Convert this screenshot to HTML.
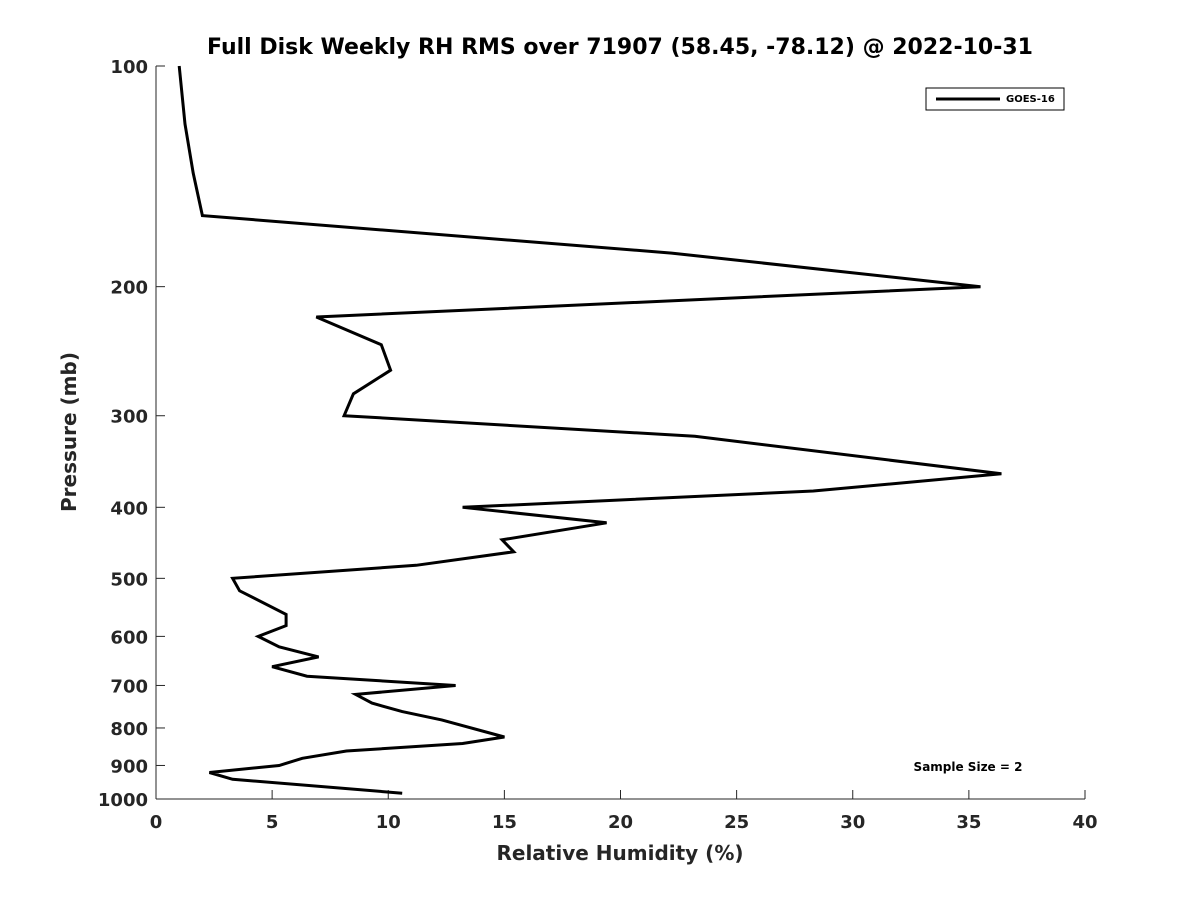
<!DOCTYPE html>
<html><head><meta charset="utf-8"><style>
body{margin:0;background:#fff;}
svg text{font-family:"DejaVu Sans","Liberation Sans",sans-serif;font-weight:bold;fill:#262626;}
</style></head><body>
<svg id="chart" width="1200" height="900" xmlns="http://www.w3.org/2000/svg">
<rect width="1200" height="900" fill="#fff"/>
<text x="620" y="54" font-size="22" text-anchor="middle" style="fill:#000">Full Disk Weekly RH RMS over 71907 (58.45, -78.12) @ 2022-10-31</text>
<g id="axes"></g>
<text x="620" y="860" font-size="20" text-anchor="middle">Relative Humidity (%)</text>
<text transform="translate(76,432) rotate(-90)" font-size="20" text-anchor="middle">Pressure (mb)</text>
<g>
<rect x="926" y="88" width="138" height="22" fill="#fff" stroke="#000" stroke-width="1"/>
<line x1="936" y1="99" x2="1000" y2="99" stroke="#000" stroke-width="3"/>
<text x="1006" y="102" font-size="10" style="fill:#000">GOES-16</text>
</g>
<text x="968" y="771" font-size="12" text-anchor="middle" style="fill:#000">Sample Size = 2</text>
</svg>
<script>
const rh=[1.0,1.25,1.6,2.0,22.2,35.5,6.9,9.7,10.1,8.5,8.1,23.2,36.4,28.3,13.2,19.4,14.9,15.4,11.2,3.3,3.6,5.6,5.6,4.4,5.3,7.0,5.0,6.5,12.9,8.6,9.3,10.6,12.3,15.0,13.2,8.2,6.3,5.3,2.3,3.3,10.6];
const pressure=[100,120,140,160,180,200,220,240,260,280,300,320,360,380,400,420,443,460,480,500,520,560,580,600,620,640,660,680,700,720,740,760,780,823,840,860,880,900,920,940,982];
const xTicks=[0,5,10,15,20,25,30,35,40];
const yTicks=[100,200,300,400,500,600,700,800,900,1000];
const X0=156,X1=1085,Y0=66,Y1=799;
const xs=v=>X0+(v-0)/40*(X1-X0);
const ys=p=>Y0+Math.log10(p/100)*(Y1-Y0);
const NS="http://www.w3.org/2000/svg";
const axes=document.getElementById('axes');
function mk(t,a,parent){const e=document.createElementNS(NS,t);for(const k in a)e.setAttribute(k,a[k]);(parent||axes).appendChild(e);return e;}
const xa=mk('line',{x1:X0,y1:Y1,x2:X1,y2:Y1,stroke:'#262626','stroke-width':1});


const ya=mk('line',{x1:X0,y1:Y0,x2:X0,y2:Y1,stroke:'#262626','stroke-width':1});


xTicks.forEach(v=>{
 mk('line',{x1:xs(v),y1:Y1,x2:xs(v),y2:Y1-9,stroke:'#262626','stroke-width':1});
 const t=mk('text',{x:xs(v),y:Y1+29,'font-size':18,'text-anchor':'middle'});
 t.textContent=v;
 
 
});
yTicks.forEach(p=>{
 mk('line',{x1:X0,y1:ys(p),x2:X0+9,y2:ys(p),stroke:'#262626','stroke-width':1});
 const t=mk('text',{x:X0-8,y:ys(p)+7,'font-size':18,'text-anchor':'end'});
 t.textContent=p;
 
 
});
const pts=rh.map((v,i)=>xs(v).toFixed(1)+','+ys(pressure[i]).toFixed(1)).join(' ');
const line=mk('polyline',{points:pts,fill:'none',stroke:'#000','stroke-width':3,'stroke-linejoin':'miter'});


</script>
</body></html>
